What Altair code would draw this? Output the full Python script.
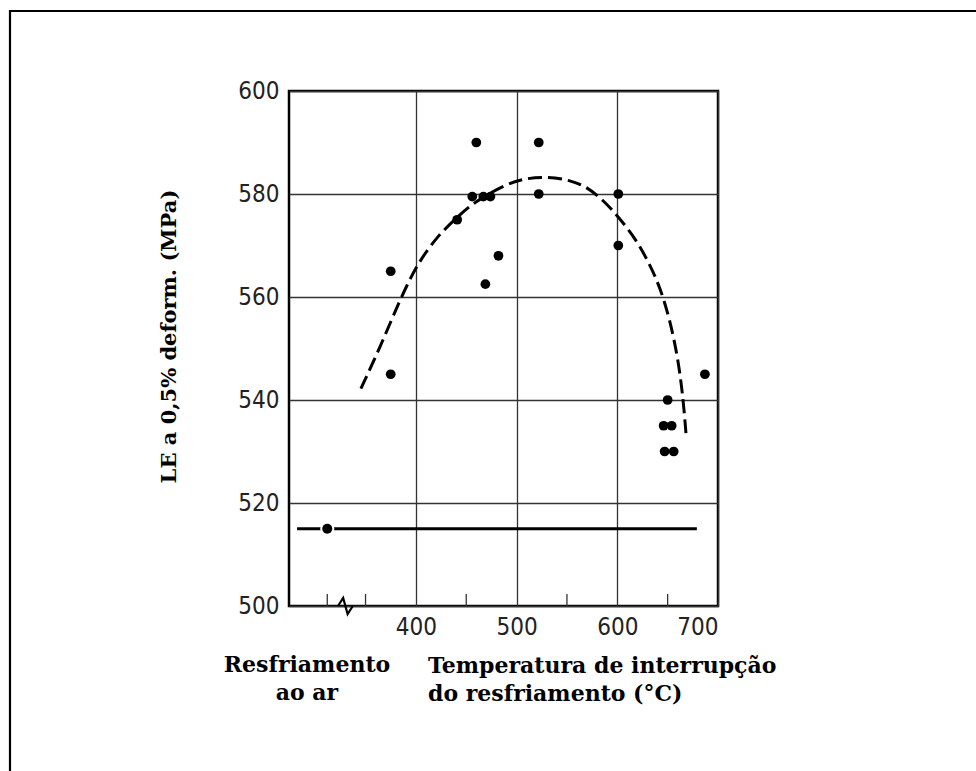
import altair as alt
import pandas as pd

# Measured points (temperature °C, LE MPa)
temp_pts = [460, 522, 456, 467, 474, 601, 522, 441, 601, 482, 375, 469, 375, 687, 650, 646, 654, 647, 656]
le_pts = [590, 590, 579.5, 579.5, 579.5, 580, 580, 575, 570, 568, 565, 562.5, 545, 545, 540, 535, 535, 530, 530]

# Air-cooled reference point and its horizontal line
air_temp = [312]
air_le = [515]
line_temp = [282]
line_temp2 = [679]
line_le = [515]

# Dashed trend curve
curve_temp = [345.4, 364.6, 384, 401, 420.8, 441, 457, 487, 507, 530, 553, 569.7, 586,
              601.5, 619.3, 632.5, 642.4, 652.4, 660.6, 665.6, 668.2]
curve_le = [542.2, 550.3, 559.4, 566.3, 571.7, 575.5, 578.3, 581.7, 583, 583.4, 582.7, 581.4,
            578.8, 575.5, 571, 566.2, 561.9, 555.5, 547.7, 539.9, 533.5]

# Minor ticks on the bottom axis and axis-break position
minor_ticks = [312, 350, 450, 550, 650]
break_temp = [330]
break_le = [500]

x_ticks = [400, 500, 600, 700]
y_ticks = [500, 520, 540, 560, 580, 600]

W, H = 429, 515
PL, PT = 289, 91

pts = pd.DataFrame({"T": temp_pts, "LE": le_pts})
air = pd.DataFrame({"T": air_temp, "LE": air_le})
hline = pd.DataFrame({"T": line_temp, "T2": line_temp2, "LE": line_le})
curve = pd.DataFrame({"T": curve_temp, "LE": curve_le})
ticks = pd.DataFrame({"T": minor_ticks})
brk = pd.DataFrame({"T": break_temp, "LE": break_le})
one = pd.DataFrame({"a": [0]})

xs = alt.Scale(domain=[274, 700], nice=False, zero=False)
ys = alt.Scale(domain=[500, 600], nice=False, zero=False)

tick_font = "Liberation Sans Narrow, DejaVu Sans Condensed, sans-serif"
serif = "DejaVu Serif"

xaxis = alt.Axis(values=x_ticks, grid=True, gridColor="#333", gridWidth=1.3,
                 domain=False, ticks=False, tickSize=0, labelPadding=9,
                 labelFont=tick_font, labelFontSize=24, labelColor="#222",
                 title=None)
yaxis = alt.Axis(values=y_ticks, grid=True, gridColor="#333", gridWidth=1.3,
                 domain=False, ticks=False, tickSize=0, labelPadding=10,
                 labelFont=tick_font, labelFontSize=24, labelColor="#222",
                 title="LE a 0,5% deform. (MPa)", titleFont=serif, titleFontSize=21,
                 titleFontWeight="bold", titleColor="#000", titleAngle=270,
                 titleAlign="center", titleBaseline="middle", titleX=-120, titleY=245)

X = alt.X("T:Q", scale=xs, axis=xaxis)
Y = alt.Y("LE:Q", scale=ys, axis=yaxis)

curve_layer = alt.Chart(curve).mark_line(
    color="#000", strokeWidth=3, strokeDash=[14, 6], interpolate="basis"
).encode(x=X, y=Y)

hline_layer = alt.Chart(hline).mark_rule(color="#000", strokeWidth=3).encode(
    x=X, x2="T2:Q", y=Y)

air_halo = alt.Chart(air).mark_circle(color="white", opacity=1, size=200).encode(x=X, y=Y)
air_layer = alt.Chart(air).mark_circle(color="#000", opacity=1, size=100).encode(x=X, y=Y)

pts_layer = alt.Chart(pts).mark_circle(color="#000", opacity=1, size=95).encode(x=X, y=Y)

tick_layer = alt.Chart(ticks).mark_rule(color="#333", strokeWidth=1.3).encode(
    x=X, y=alt.value(H), y2=alt.value(H - 12))

break_layer = alt.Chart(brk).mark_point(
    shape="M -1 0 L -0.3 -1.1 L 0.3 1.1 L 1 0", size=220, filled=False,
    color="#000", strokeWidth=2.2, opacity=1
).encode(x=X, y=Y)

air_text = alt.Chart(one).mark_text(
    font=serif, fontSize=22, fontWeight="bold", align="center", baseline="alphabetic",
    lineHeight=28, color="#000"
).encode(x=alt.value(307 - PL), y=alt.value(672 - PT),
         text=alt.value(["Resfriamento", "ao ar"]))

x_title = alt.Chart(one).mark_text(
    font=serif, fontSize=22, fontWeight="bold", align="left", baseline="alphabetic",
    lineHeight=28, color="#000"
).encode(x=alt.value(428 - PL), y=alt.value(673 - PT),
         text=alt.value(["Temperatura de interrupção", "do resfriamento (°C)"]))

frame = alt.Chart(one).mark_rect(filled=False, stroke="#000", strokeWidth=2.2).encode(
    x=alt.value(10 - PL), x2=alt.value(990 - PL), y=alt.value(11 - PT), y2=alt.value(790 - PT))

chart = alt.layer(
    curve_layer, hline_layer, tick_layer, break_layer, air_halo, air_layer, pts_layer,
    air_text, x_title, frame
).properties(
    width=W, height=H,
    autosize=alt.AutoSizeParams(type="none"),
    padding={"left": PL, "top": PT, "right": 976 - PL - W, "bottom": 771 - PT - H},
    background="white"
).configure_view(stroke="#000", strokeWidth=2.5)

chart.save("out.html", embed_options={"renderer": "svg", "actions": False})
